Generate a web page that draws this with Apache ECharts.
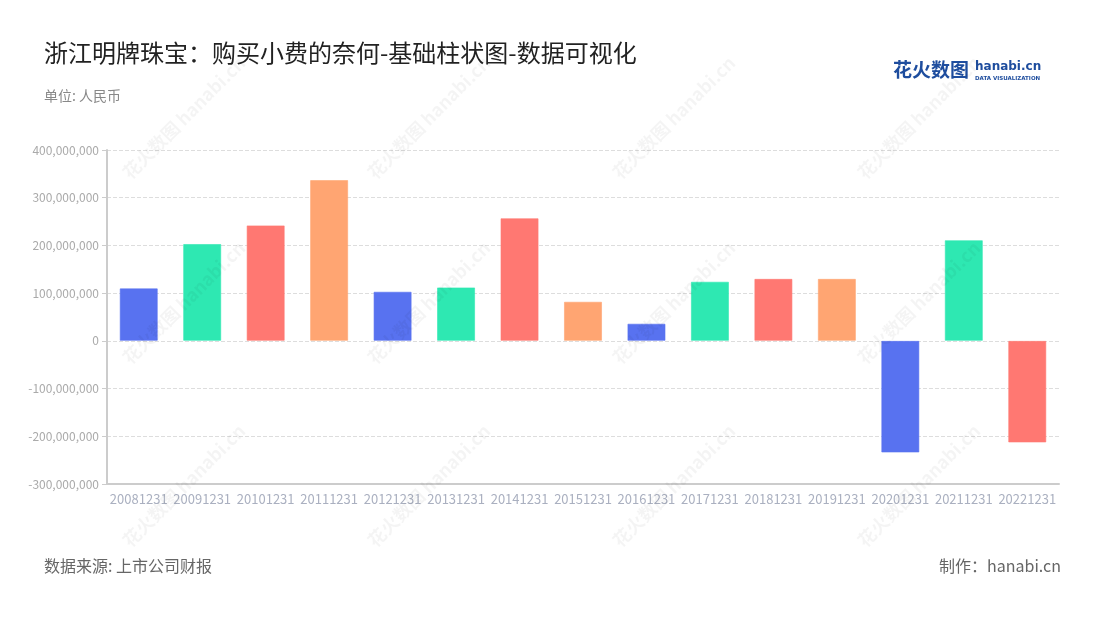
<!DOCTYPE html>
<html>
<head>
<meta charset="utf-8">
<script src="https://cdn.jsdelivr.net/npm/echarts@6/dist/echarts.min.js"></script>
<style>html,body{margin:0;padding:0;background:#fff;}#c{width:1100px;height:620px;}</style>
</head>
<body>
<div id="c"></div>
<script>
const categories = ['20081231','20091231','20101231','20111231','20121231','20131231','20141231','20151231','20161231','20171231','20181231','20191231','20201231','20211231','20221231'];
const values = [110000000, 203000000, 242000000, 337000000, 103000000, 112000000, 257000000, 82000000, 36000000, 124000000, 130000000, 130000000, -234000000, 211000000, -213000000];
const palette = ['#5872F0', '#2EE8B2', '#FF7872', '#FFA572'];
const yTicks = { min: -300000000, max: 400000000, interval: 100000000 };

const FONT = '"Noto Sans CJK SC", "Noto Sans", sans-serif';
const chart = echarts.init(document.getElementById('c'), null, { renderer: 'canvas' });

// watermark
const wm = [];
const wmX = [132, 377, 622, 867];
const wmY = [182, 367, 550];
wmX.forEach(x => wmY.forEach(y => {
  wm.push({
    type: 'text', x: x, y: y, rotation: Math.PI / 4, silent: true, z: 100,
    style: { text: '花火数图 hanabi.cn', fill: 'rgba(0,0,0,0.045)', font: 'bold 18px ' + FONT, textVerticalAlign: 'bottom' }
  });
}));

chart.setOption({
  backgroundColor: '#fff',
  textStyle: { fontFamily: FONT },
  title: [
    { text: '浙江明牌珠宝：购买小费的奈何-基础柱状图-数据可视化', left: 39, top: 36,
      textStyle: { fontSize: 24, fontWeight: 'normal', color: '#222', fontFamily: FONT } },
    { text: '单位: 人民币', left: 39, top: 84, textStyle: { fontSize: 14, fontWeight: 'normal', color: '#888', fontFamily: FONT } },
    { text: '数据来源: 上市公司财报', left: 39, top: 553, textStyle: { fontSize: 16, fontWeight: 'normal', color: '#666', fontFamily: FONT } },
    { text: '制作：hanabi.cn', right: 34, top: 553, textStyle: { fontSize: 16, fontWeight: 'normal', color: '#666', fontFamily: FONT } }
  ],
  graphic: wm.concat([
    { type: 'text', left: 893, top: 60, style: { text: '花火数图', fill: '#1E4D9E', font: 'bold 19px ' + FONT } },
    { type: 'text', left: 975, top: 61, style: { text: 'hanabi.cn', fill: '#1E4D9E', font: 'bold 12px "DejaVu Sans", sans-serif' } },
    { type: 'text', left: 975, top: 76, style: { text: 'DATA VISUALIZATION', fill: '#1E4D9E', font: 'bold 5.5px "DejaVu Sans", sans-serif' } }
  ]),
  grid: { left: 107, right: 41, top: 150, bottom: 136 },
  xAxis: {
    type: 'category', data: categories,
    axisLine: { onZero: false, lineStyle: { color: '#ccc', width: 2 } },
    axisTick: { alignWithLabel: true, lineStyle: { color: '#ccc' } },
    axisLabel: { color: '#aab0c0', fontSize: 13, margin: 9, interval: 0 },
    splitLine: { show: false }
  },
  yAxis: {
    type: 'value', min: yTicks.min, max: yTicks.max, interval: yTicks.interval,
    axisLine: { show: true, lineStyle: { color: '#ccc', width: 2 } },
    axisTick: { show: true, lineStyle: { color: '#ccc' } },
    axisLabel: { color: '#aaa', fontSize: 12, formatter: v => v.toLocaleString('en-US') },
    splitLine: { lineStyle: { type: 'dashed', color: '#ddd' } }
  },
  series: [{
    type: 'bar', barWidth: '60%',
    data: values.map((v, i) => ({ value: v, itemStyle: { color: palette[i % 4], borderColor: palette[i % 4] + '99', borderWidth: 1 } })),
  }]
});
</script>
</body>
</html>
